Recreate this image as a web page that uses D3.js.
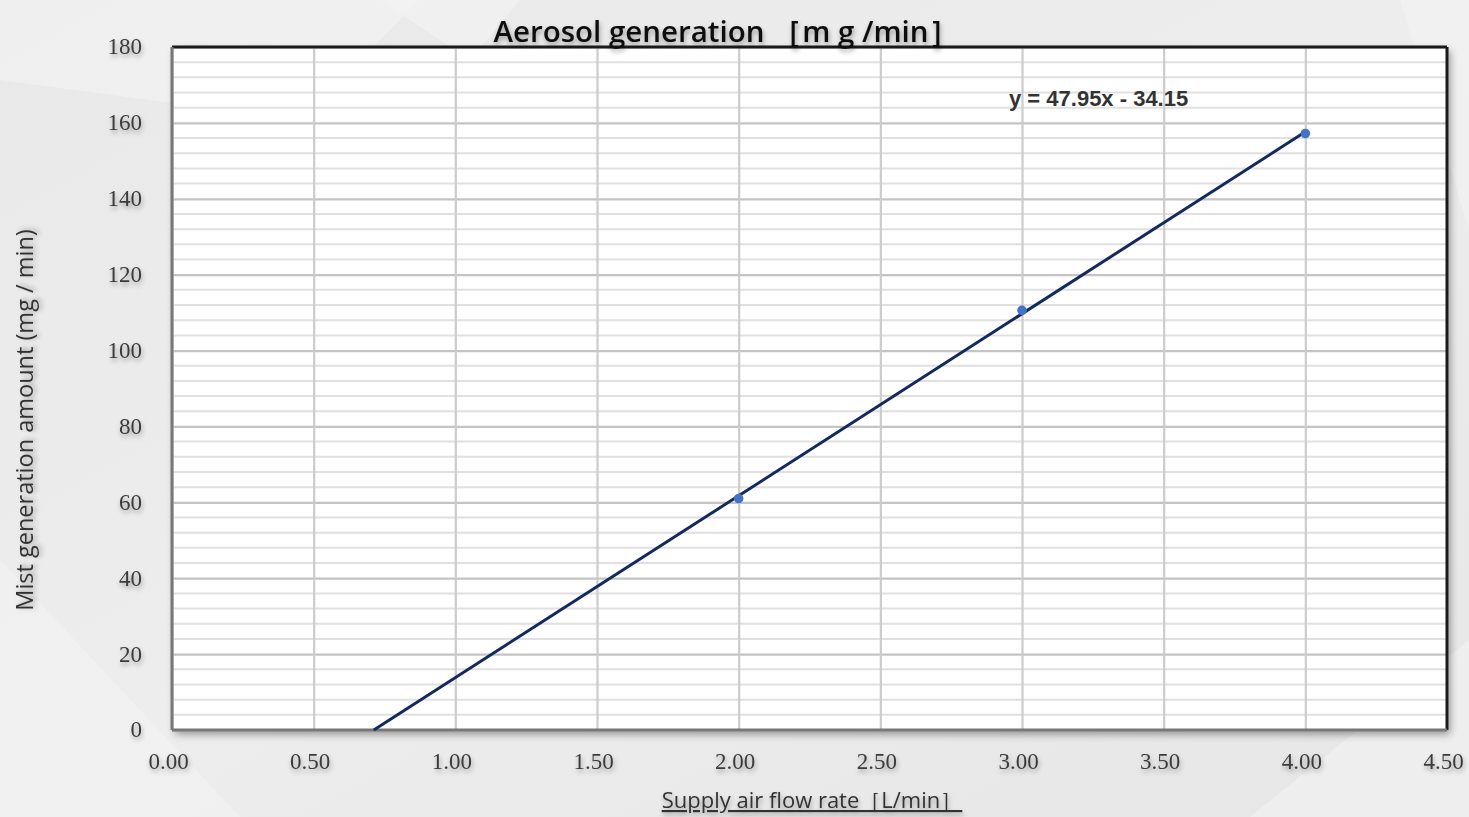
<!DOCTYPE html>
<html>
<head>
<meta charset="utf-8">
<script src="https://cdn.jsdelivr.net/npm/d3@7"></script>
<style>
  html, body { margin: 0; padding: 0; background: #ebebeb; overflow: hidden; }
  svg { display: block; }
</style>
</head>
<body>
<svg id="chart" width="1469" height="817"></svg>
<script>
// ---- data ----
const flowRates = [2.0, 3.0, 4.0];            // L/min
const mistAmounts = [61.0, 110.6, 157.2];     // mg/min
const xTicks = [0, 0.5, 1.0, 1.5, 2.0, 2.5, 3.0, 3.5, 4.0, 4.5];
const yTicks = [0, 20, 40, 60, 80, 100, 120, 140, 160, 180];
const trendSlope = 47.95;
const trendIntercept = -34.15;
const trendLabel = "y = 47.95x - 34.15";
const titleText = "Aerosol generation ［m g /min］";
const xLabelText = "Supply air flow rate［L/min］";
const yLabelText = "Mist generation amount (mg / min)";

(function () {
// ---- layout ----
const W = 1469, H = 817;
const pL = 172, pR = 1447, pT = 47, pB = 730;

const svg = d3.select("#chart");
const defs = svg.append("defs");

// background gradient
const bg = defs.append("linearGradient").attr("id", "bg").attr("x1", "0").attr("y1", "0").attr("x2", "1").attr("y2", "1");
bg.append("stop").attr("offset", "0").attr("stop-color", "#e9e9e9");
bg.append("stop").attr("offset", "0.5").attr("stop-color", "#ededed");
bg.append("stop").attr("offset", "1").attr("stop-color", "#e6e6e6");
svg.append("rect").attr("width", W).attr("height", H).attr("fill", "url(#bg)");

// faint facets
const facets = [
  [[0,0],[420,0],[300,120],[0,80]],
  [[380,0],[520,0],[470,60]],
  [[0,560],[240,817],[0,817]],
  [[1250,817],[1469,640],[1469,817]],
  [[1400,0],[1469,0],[1469,230]]
];
svg.selectAll("polygon.facet").data(facets).join("polygon")
  .attr("class", "facet")
  .attr("points", d => d.map(p => p.join(",")).join(" "))
  .attr("fill", "#f3f3f3").attr("opacity", 0.6);

// shadow filters
const shadow = defs.append("filter").attr("id", "tshadow").attr("x", "-20%").attr("y", "-50%").attr("width", "140%").attr("height", "200%");
shadow.append("feGaussianBlur").attr("in", "SourceAlpha").attr("stdDeviation", 2.5).attr("result", "b");
shadow.append("feOffset").attr("in", "b").attr("dx", 1).attr("dy", 3).attr("result", "o");
shadow.append("feComponentTransfer").attr("in", "o").attr("result", "o2")
  .append("feFuncA").attr("type", "linear").attr("slope", 0.35);
const m1 = shadow.append("feMerge");
m1.append("feMergeNode").attr("in", "o2");
m1.append("feMergeNode").attr("in", "SourceGraphic");

const boxShadow = defs.append("filter").attr("id", "bshadow").attr("x", "-5%").attr("y", "-5%").attr("width", "110%").attr("height", "110%");
boxShadow.append("feGaussianBlur").attr("in", "SourceAlpha").attr("stdDeviation", 4).attr("result", "b");
boxShadow.append("feOffset").attr("in", "b").attr("dx", 3).attr("dy", 4).attr("result", "o");
boxShadow.append("feComponentTransfer").attr("in", "o").attr("result", "o2")
  .append("feFuncA").attr("type", "linear").attr("slope", 0.4);
const m2 = boxShadow.append("feMerge");
m2.append("feMergeNode").attr("in", "o2");
m2.append("feMergeNode").attr("in", "SourceGraphic");

// scales
const x = d3.scaleLinear().domain([0, 4.5]).range([pL, pR]);
const y = d3.scaleLinear().domain([0, 180]).range([pB, pT]);

// plot area
svg.append("rect").attr("x", pL).attr("y", pT).attr("width", pR - pL).attr("height", pB - pT)
  .attr("fill", "#ffffff").attr("filter", "url(#bshadow)");

// minor horizontal gridlines (every 4)
const minorY = d3.range(0, 181, 4).filter(v => v % 20 !== 0);
svg.append("g").selectAll("line").data(minorY).join("line")
  .attr("x1", pL).attr("x2", pR)
  .attr("y1", d => y(d)).attr("y2", d => y(d))
  .attr("stroke", "#e0e0e0").attr("stroke-width", 2);

const tickFont = "'Liberation Serif', 'DejaVu Serif', serif";

// major horizontal gridlines
const yAxis = d3.axisLeft(y).tickValues(yTicks).tickSize(-(pR - pL)).tickFormat(d3.format("d")).tickPadding(30);
const gy = svg.append("g").attr("transform", `translate(${pL},0)`).call(yAxis);
gy.select(".domain").remove();
gy.selectAll(".tick line").attr("stroke", "#c4c4c4").attr("stroke-width", 2.2);
gy.selectAll(".tick text")
  .attr("font-family", tickFont)
  .attr("font-size", 23).attr("fill", "#3a3a3a").attr("filter", "url(#tshadow)")
  .attr("dy", "0.3em");

// vertical gridlines
const xAxis = d3.axisBottom(x).tickValues(xTicks).tickSize(-(pB - pT)).tickFormat(d3.format(".2f")).tickPadding(23);
const gx = svg.append("g").attr("transform", `translate(0,${pB})`).call(xAxis);
gx.select(".domain").remove();
gx.selectAll(".tick line").attr("stroke", "#cccccc").attr("stroke-width", 2.2);
gx.selectAll(".tick text")
  .attr("font-family", tickFont)
  .attr("font-size", 23).attr("fill", "#3a3a3a").attr("filter", "url(#tshadow)")
  .attr("dx", -4);

// plot border
svg.append("line").attr("x1", pL).attr("x2", pR).attr("y1", pT).attr("y2", pT).attr("stroke", "#1a1a1a").attr("stroke-width", 3);
svg.append("line").attr("x1", pR).attr("x2", pR).attr("y1", pT).attr("y2", pB).attr("stroke", "#1a1a1a").attr("stroke-width", 3);
svg.append("line").attr("x1", pL).attr("x2", pL).attr("y1", pT).attr("y2", pB).attr("stroke", "#777777").attr("stroke-width", 3);
svg.append("line").attr("x1", pL).attr("x2", pR).attr("y1", pB).attr("y2", pB).attr("stroke", "#777777").attr("stroke-width", 3);

// trendline (from x-intercept to last point)
const x0 = -trendIntercept / trendSlope;
const x1 = d3.max(flowRates);
const trend = [[x0, trendSlope * x0 + trendIntercept], [x1, trendSlope * x1 + trendIntercept]];
svg.append("path").datum(trend)
  .attr("d", d3.line().x(d => x(d[0])).y(d => y(d[1])))
  .attr("stroke", "#142a5c").attr("stroke-width", 3).attr("fill", "none");

// points
svg.append("g").selectAll("circle").data(flowRates.map((f, i) => [f, mistAmounts[i]])).join("circle")
  .attr("cx", d => x(d[0])).attr("cy", d => y(d[1])).attr("r", 4.8)
  .attr("fill", "#4472c4");

// trend label
svg.append("text").attr("x", 1009).attr("y", 106).text(trendLabel)
  .attr("font-family", "'Liberation Sans Narrow', 'Liberation Sans', Arial, sans-serif")
  .attr("font-weight", "bold").attr("font-size", 22).attr("fill", "#333");

// title
svg.append("text").attr("x", 726).attr("y", 42).attr("text-anchor", "middle").text(titleText)
  .attr("font-family", "'Open Sans', 'Noto Sans', sans-serif")
  .attr("font-weight", 600).attr("font-size", 29.5).attr("fill", "#111")
  .attr("filter", "url(#tshadow)");

// x label
svg.append("text").attr("x", 812).attr("y", 808).attr("text-anchor", "middle").text(xLabelText)
  .attr("font-family", "'Open Sans', 'Noto Sans', sans-serif")
  .attr("font-size", 22).attr("fill", "#333").attr("text-decoration", "underline")
  .attr("filter", "url(#tshadow)");

// y label
svg.append("text").attr("transform", `translate(33,420) rotate(-90)`).attr("text-anchor", "middle").text(yLabelText)
  .attr("font-family", "'Open Sans', 'Noto Sans', sans-serif")
  .attr("font-size", 23.5).attr("fill", "#333")
  .attr("filter", "url(#tshadow)");
})();
</script>
</body>
</html>
